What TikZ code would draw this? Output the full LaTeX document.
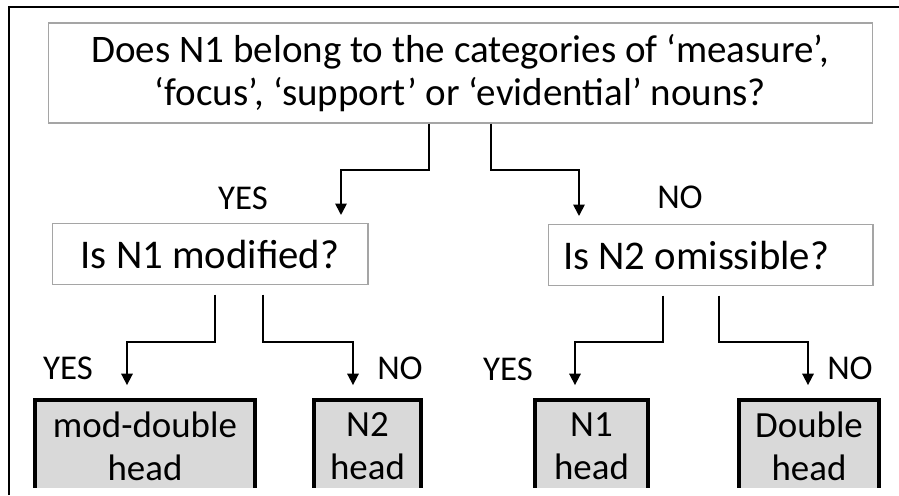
\documentclass[tikz,border=0pt]{standalone}
\usepackage{fontspec}
\setmainfont{Carlito}
\usetikzlibrary{arrows.meta}
\definecolor{boxgray}{RGB}{165,165,165}
\definecolor{headfill}{RGB}{217,217,217}

\begin{document}
\begin{tikzpicture}[x=0.02cm,y=-0.02cm,>={Triangle[width=6.5pt,length=6.5pt]},
   question/.style={draw=boxgray,line width=0.6pt,align=center,inner sep=0pt,minimum height=1.22cm,font=\fontsize{23.2}{27}\selectfont},
   answer/.style={draw,line width=2.2pt,fill=headfill,align=center,inner sep=0pt,minimum height=1.86cm,font=\fontsize{21}{24.4}\selectfont},
   branch/.style={->,line width=1pt},
   yesno/.style={inner sep=0pt,font=\fontsize{19.8}{22}\selectfont}]
   \useasboundingbox (0,0) rectangle (899,495);
   % 枠
   \draw[line width=1.1pt] (9,495) -- (9,7) -- (899,7);

   % 質問
   \node[question,minimum width=16.5cm,minimum height=2cm,font=\fontsize{22.2}{24.4}\selectfont] (q1) at (460.5,73)
      {Does N1 belong to the categories of ‘measure’,\\‘focus’, ‘support’ or ‘evidential’ nouns?};
   \node[question,minimum width=6.32cm] (q2) at (210,254) {Is N1 modified?};
   \node[question,minimum width=6.5cm,inner xsep=0.3cm,text width=5.9cm,align=flush left] (q3) at (710.5,255) {Is N2 omissible?};

   % 答え
   \begin{scope}
      \clip (0,0) rectangle (899,487);
      \node[answer,minimum width=4.4cm] (r1) at (145,446.5) {mod-double\\head};
      \node[answer,minimum width=2.14cm] (r2) at (367.5,446.5) {N2\\head};
      \node[answer,minimum width=2.26cm] (r3) at (591.5,446.5) {N1\\head};
      \node[answer,minimum width=2.8cm] (r4) at (809,446.5) {Double\\head};
   \end{scope}

   % 矢印
   \draw[branch,shorten >=0.16cm] (q1.south -| 429,0) |- (341,170) -- (341,0 |- q2.north);
   \draw[branch,shorten >=0.16cm] (q1.south -| 491,0) |- (579,170) -- (579,0 |- q3.north);
   \draw[branch,shorten <=0.19cm,shorten >=0.26cm] (q2.south -| 215,0) |- (127,342) -- (127,0 |- r1.north);
   \draw[branch,shorten <=0.19cm,shorten >=0.26cm] (q2.south -| 263,0) |- (353,342) -- (353,0 |- r2.north);
   \draw[branch,shorten <=0.19cm,shorten >=0.26cm] (q3.south -| 663,0) |- (575,342) -- (575,0 |- r3.north);
   \draw[branch,shorten <=0.19cm,shorten >=0.26cm] (q3.south -| 719,0) |- (808,342) -- (808,0 |- r4.north);

   \node[yesno] (yes1) at (243,198) {YES};
   \node[yesno] (no1) at (680,197) {NO};
   \node[yesno] (yes2) at (68,368) {YES};
   \node[yesno] (no2) at (400,368) {NO};
   \node[yesno] (yes3) at (508,369) {YES};
   \node[yesno] (no3) at (850,368) {NO};
\end{tikzpicture}
\end{document}
